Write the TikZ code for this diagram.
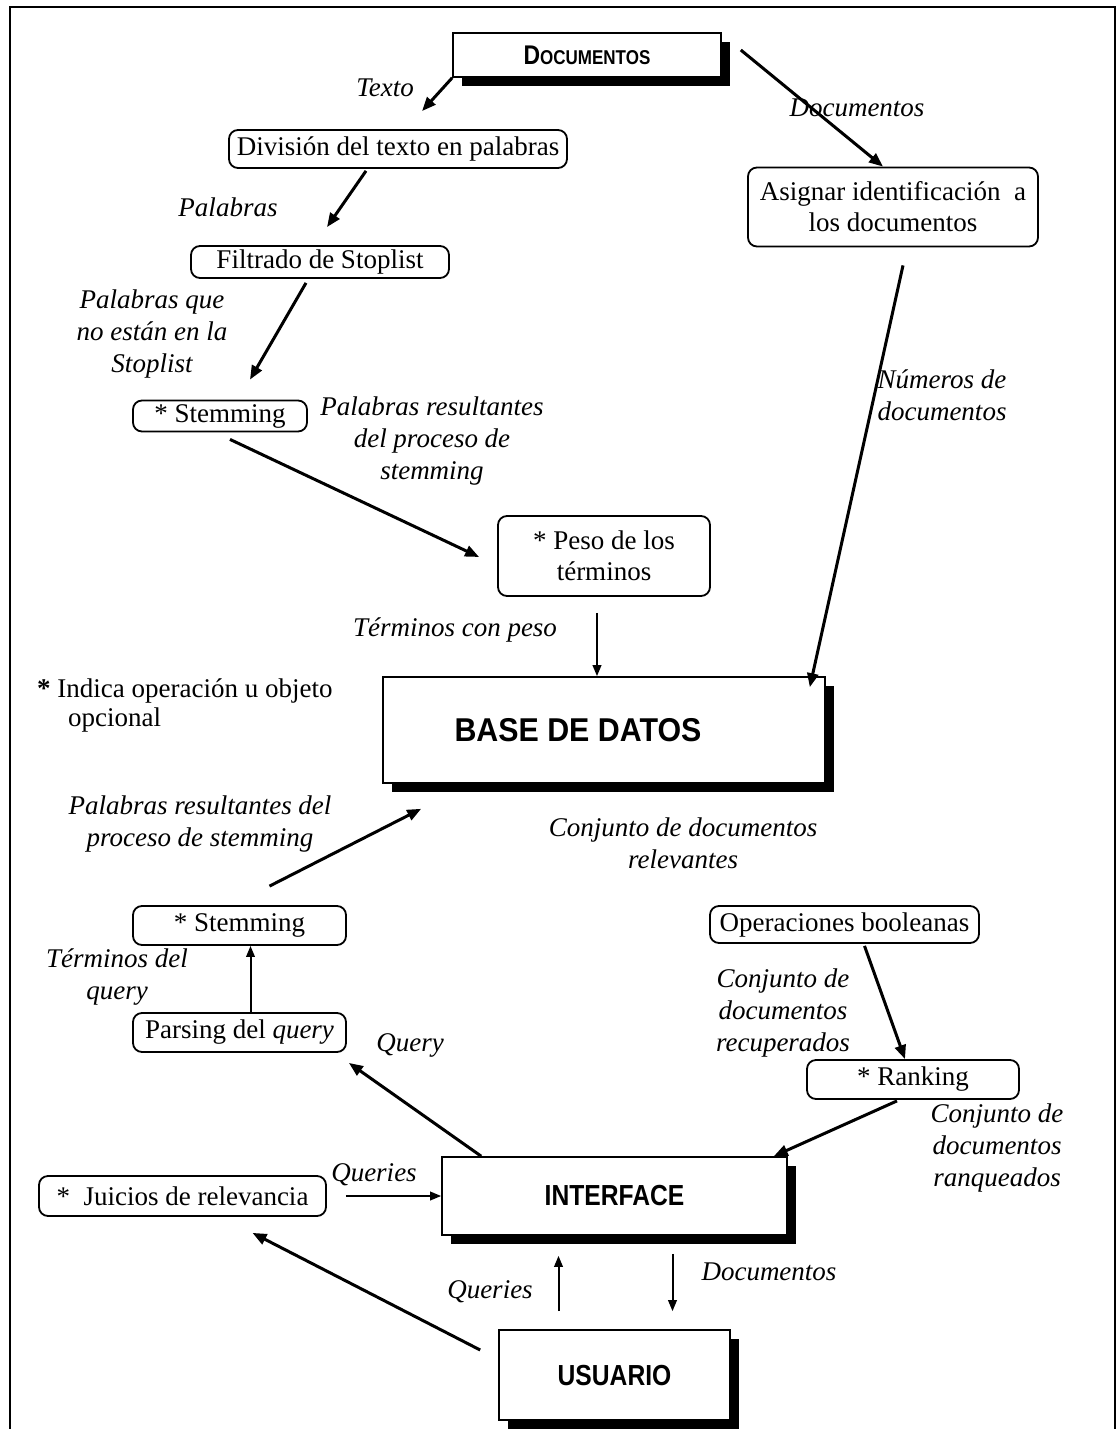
\documentclass[tikz,border=0pt]{standalone}
\usepackage{fontspec}
\setmainfont{Liberation Serif}
\newfontfamily\headfont{Liberation Sans}[FakeStretch=0.85]
\newfontfamily\headwide{Liberation Sans}[FakeStretch=0.92]
\usetikzlibrary{arrows.meta,shadows}

\begin{document}
\begin{tikzpicture}[x=1pt,y=-1pt,
  every node/.style={font=\fontsize{27}{31}\selectfont, inner sep=0pt},
  proc/.style={draw, line width=1.8pt, rounded corners=9pt, align=center},
  major/.style={draw, line width=1.6pt, fill=white,
    drop shadow={shadow xshift=9pt, shadow yshift=-9pt, fill=black, opacity=1},
    font=\headfont\bfseries\fontsize{29}{32}\selectfont},
  lbl/.style={font=\itshape\fontsize{27}{32}\selectfont, align=center},
  heavy/.style={line width=3pt, -{Triangle[length=14pt,width=11pt]}},
  light/.style={line width=2pt, -{Triangle[length=11pt,width=8.5pt]}},
]
\useasboundingbox (0,0) rectangle (1117,1429);

% outer frame (open at the bottom)
\draw[line width=2pt] (10,1429) -- (10,7) -- (1115,7) -- (1115,1429);

% main blocks
\node[major, minimum width=268pt, minimum height=44pt] (docs) at (587,55)
  {{\fontsize{27}{30}\selectfont D}{\fontsize{20}{30}\selectfont OCUMENTOS}};
\node[major, minimum width=442pt, minimum height=106pt,
  font=\headwide\bfseries\fontsize{33}{36}\selectfont] (base) at (604,730)
  {BASE DE DATOS\hspace*{52pt}};
\node[major, minimum width=345pt, minimum height=78pt] (interf) at (614.5,1196) {INTERFACE};
\node[major, minimum width=231pt, minimum height=90pt] (usu) at (614.5,1375) {USUARIO};

% processing steps
\node[proc, minimum width=338pt, minimum height=38pt] (div) at (398,149) {División del texto en palabras};
\node[proc, minimum width=258pt, minimum height=32pt] (filt) at (320,262) {Filtrado de Stoplist};
\node[proc, minimum width=174pt, minimum height=31pt] (stem1) at (220,416) {* Stemming};
\node[proc, minimum width=212pt, minimum height=80pt] (peso) at (604,556) {* Peso de los\\términos};
\node[proc, minimum width=290pt, minimum height=79pt] (asig) at (893,207) {Asignar identificación\ \ a\\los documentos};
\node[proc, minimum width=213pt, minimum height=39pt] (stem2) at (239.5,925.5) {* Stemming};
\node[proc, minimum width=213pt, minimum height=39pt] (pars) at (239.5,1032.5) {Parsing del \textit{query}};
\node[proc, minimum width=269pt, minimum height=37pt] (oper) at (844.5,924.5) {Operaciones booleanas};
\node[proc, minimum width=212pt, minimum height=39pt] (rank) at (913,1079.5) {* Ranking};
\node[proc, minimum width=287pt, minimum height=40pt] (juic) at (182.5,1196) {*\ \ Juicios de relevancia};

% legend
\node[anchor=west, align=left, font=\fontsize{27}{29}\selectfont] (note) at (37,705)
  {{\bfseries *} Indica operación u objeto\\\hspace*{31pt}opcional};

% flow labels
\node[lbl] (lTexto) at (385,88) {Texto};
\node[lbl] (lDocs) at (857,108) {Documentos};
\node[lbl] (lPal) at (228,207) {Palabras};
\node[lbl] (lStop) at (152,334) {Palabras que\\no están en la\\Stoplist};
\node[lbl] (lRes1) at (432,441) {Palabras resultantes\\del proceso de\\stemming};
\node[lbl] (lNum) at (942,395) {Números de\\documentos};
\node[lbl] (lPeso) at (455,630) {Términos con peso};
\node[lbl] (lRes2) at (200,824) {Palabras resultantes del\\proceso de stemming};
\node[lbl] (lRel) at (683,843) {Conjunto de documentos\\relevantes};
\node[lbl] (lTerm) at (117,977) {Términos del\\query};
\node[lbl] (lQuery) at (410,1045) {Query};
\node[lbl] (lRecup) at (783,1013) {Conjunto de\\documentos\\recuperados};
\node[lbl] (lRanq) at (997,1148) {Conjunto de\\documentos\\ranqueados};
\node[lbl] (lQ1) at (374,1175) {Queries};
\node[lbl] (lQ2) at (490,1292) {Queries};
\node[lbl] (lDocs2) at (769,1272) {Documentos};

% connectors
\draw[heavy] (docs.south west) -- ([shift={(24,-18)}]div.north);
\draw[heavy] ([shift={(19,-5)}]docs.east) -- ([shift={(-10,0)}]asig.north);
\draw[heavy] ([shift={(-32,2)}]div.south) -- ([shift={(7,-18)}]filt.north);
\draw[heavy] ([shift={(-14,4)}]filt.south) -- ([shift={(30,-20)}]stem1.north);
\draw[heavy] ([shift={(10,7)}]stem1.south) -- ([shift={(-18,1)}]peso.west);
\draw[light] ([shift={(-7,16)}]peso.south) -- ([shift={(-7,0)}]base.north);
\draw[heavy] ([shift={(10,18)}]asig.south) -- ([shift={(-16,11)}]base.north east);
\draw[heavy] ([shift={(30,-19)}]stem2.north) -- ([shift={(39,25)}]base.south west);
\draw[light] ([shift={(11,0)}]pars.north) -- ([shift={(11,0)}]stem2.south);
\draw[heavy] ([shift={(40,0)}]interf.north west) -- ([shift={(2,10)}]pars.south east);
\draw[heavy] ([shift={(20,2)}]oper.south) -- ([shift={(-8,0)}]rank.north);
\draw[heavy] ([shift={(-16,1)}]rank.south) -- ([shift={(-14,0)}]interf.north east);
\draw[light] ([shift={(19,0)}]juic.east) -- (interf.west);
\draw[light] ([shift={(-56,-18)}]usu.north) -- ([shift={(-56,20)}]interf.south);
\draw[light] ([shift={(58,18)}]interf.south) -- ([shift={(58,-18)}]usu.north);
\draw[heavy] ([shift={(-18,-25)}]usu.west) -- ([shift={(70,16)}]juic.south);
\end{tikzpicture}
\end{document}
